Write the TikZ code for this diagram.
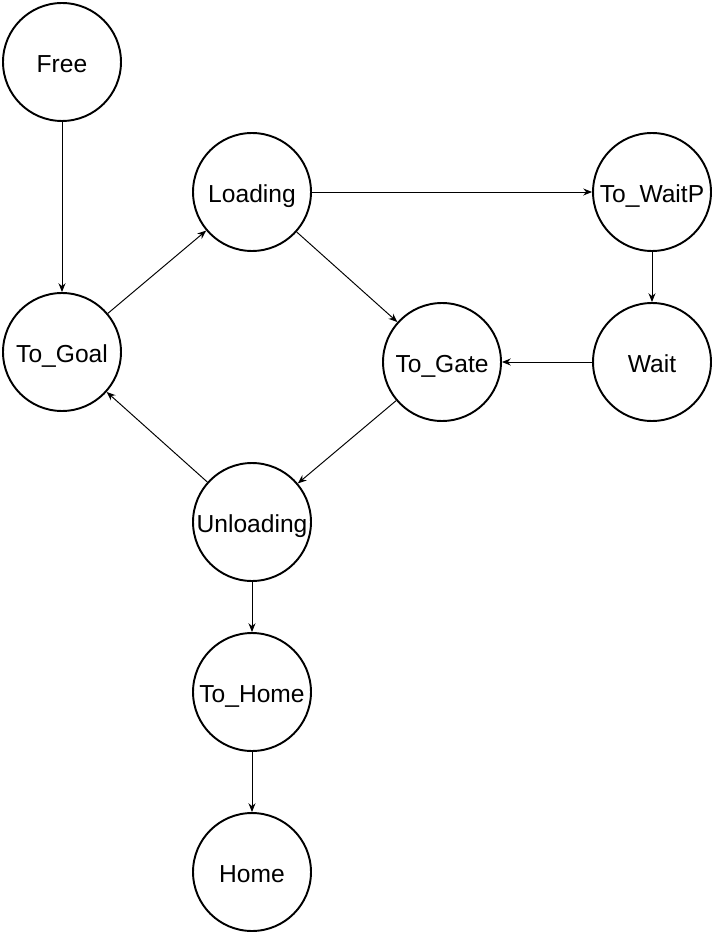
\documentclass[tikz,border=0pt]{standalone}
\usepackage{fontspec}
\setmainfont{Liberation Sans}
\usetikzlibrary{arrows.meta}
\tikzstyle{st}=[shape=circle, draw, line width=1.1pt, minimum size=2.36cm, inner sep=0, text height=14pt, text depth=2pt, font=\fontsize{14}{17}\selectfont]
\tikzstyle{tr}=[-{Stealth[length=5pt, width=4pt]}, line width=0.55pt]

\begin{document}
\begin{tikzpicture}[x=0.02cm, y=-0.02cm]
\useasboundingbox (0,0) rectangle (712,932);
%\draw[help lines,step=50] (0,0) grid (712,932);
\node at (62,62)[st](free){Free};
\node at (252,192)[st](loading){Loading};
\node at (652,192)[st](towaitp){To\_WaitP};
\node at (62,352)[st](togoal){To\_Goal};
\node at (442,362)[st](togate){To\_Gate};
\node at (652,362)[st](wait){Wait};
\node at (252,522)[st](unloading){Unloading};
\node at (252,692)[st](tohome){To\_Home};
\node at (252,872)[st](home){Home};
\draw[tr] (free)--(togoal);
\draw[tr] (togoal)--(loading);
\draw[tr] (loading)--(towaitp);
\draw[tr] (loading)--(togate);
\draw[tr] (towaitp)--(wait);
\draw[tr] (wait)--(togate);
\draw[tr] (togate)--(unloading);
\draw[tr] (unloading)--(togoal);
\draw[tr] (unloading)--(tohome);
\draw[tr] (tohome)--(home);
\end{tikzpicture}
\end{document}
